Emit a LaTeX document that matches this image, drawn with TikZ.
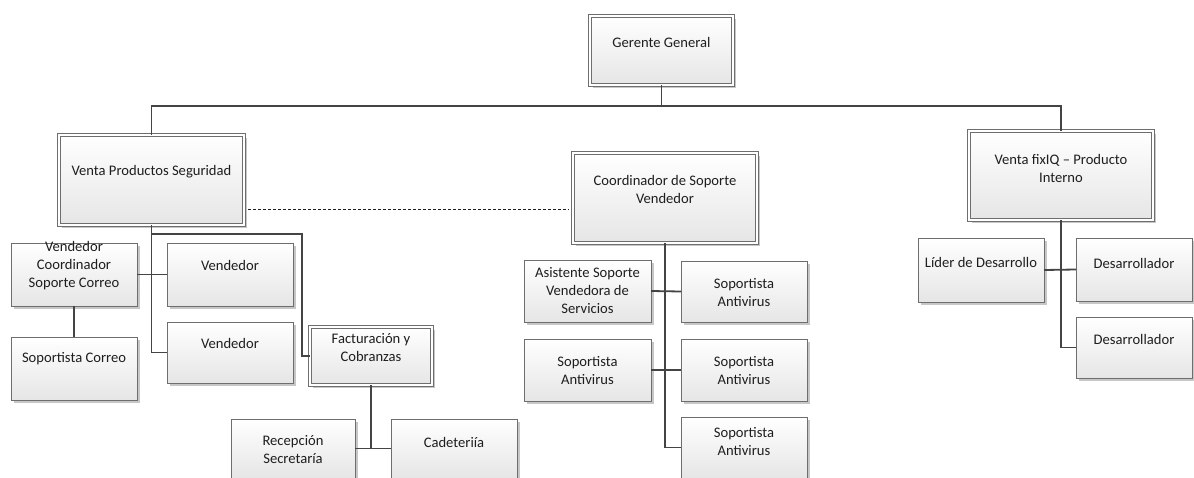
\documentclass[tikz,border=0pt]{standalone}
\usepackage{fontspec}
\setmainfont{Carlito}
\usetikzlibrary{shadows,calc}

\definecolor{edge}{HTML}{6E6E6E}
\definecolor{wire}{HTML}{444444}
\definecolor{ink}{HTML}{1E1E1E}

\tikzset{
  box/.style={draw=edge, line width=0.8pt, inner sep=0pt, outer sep=0pt,
    top color=white, bottom color=black!10,
    drop shadow={shadow xshift=2.5pt, shadow yshift=-2.5pt, fill=black!22, opacity=1}},
  dbox/.style={box, line width=0.7pt, double=white, double distance=1.8pt},
  txt/.style={font=\fontsize{14.6}{18}\selectfont, text=ink, align=center, inner sep=0pt},
  wireline/.style={draw=wire, line width=1.8pt},
  dashline/.style={draw=ink, line width=1pt, dash pattern=on 3pt off 2pt}
}

% \orgnode{style}{name}{x1}{y1}{x2}{y2}: a box spanning the given corners
\newcommand\orgnode[6]{%
  \node[#1, minimum width={(#5-#3)*1pt}, minimum height={(#6-#4)*1pt}]
    (#2) at ({(#3+#5)/2},{(#4+#6)/2}) {};}

\begin{document}
\begin{tikzpicture}[x=1pt, y=-1pt]
\useasboundingbox (0,0) rectangle (1194,477);
\clip (0,0) rectangle (1194,477);

% ---- boxes
\orgnode{dbox}{gg}{590}{16}{733}{85}
\orgnode{dbox}{vps}{59}{135}{244}{225}
\orgnode{dbox}{csv}{573}{153}{757}{243}
\orgnode{dbox}{vfx}{969}{131}{1153}{220}
\orgnode{dbox}{fc}{310}{327}{432}{385}

\orgnode{box}{vcs}{11}{243}{137}{306}
\orgnode{box}{sc}{11}{337}{137}{400}
\orgnode{box}{v1}{167}{243}{293}{306}
\orgnode{box}{v2}{167}{322}{293}{383}
\orgnode{box}{rs}{231}{419}{355}{478}
\orgnode{box}{cad}{391}{419}{517}{478}

\orgnode{box}{asv}{524}{260}{651}{322}
\orgnode{box}{sal}{524}{339}{651}{401}
\orgnode{box}{sa1}{681}{261}{807}{322}
\orgnode{box}{sa2}{681}{339}{807}{401}
\orgnode{box}{sa3}{681}{417}{807}{478}

\orgnode{box}{ld}{918}{238}{1044}{302}
\orgnode{box}{d1}{1076}{238}{1192}{301}
\orgnode{box}{d2}{1076}{317}{1192}{378}

% ---- texts
\node[txt] (gg-t)  at (661.5,42)  {Gerente General};
\node[txt] (vps-t) at (151.5,172) {Venta Productos Seguridad};
\node[txt] (csv-t) at (665,189)   {Coordinador de Soporte\\Vendedor};
\node[txt] (vfx-t) at (1061,168)  {Venta fixIQ – Producto\\Interno};
\node[txt] (fc-t)  at (371,348)   {Facturación y\\Cobranzas};
\node[txt] (vcs-t) at (74,266)    {Vendedor\\Coordinador\\Soporte Correo};
\node[txt] (sc-t)  at (74,359)    {Soportista Correo};
\node[txt] (v1-t)  at (230,265)   {Vendedor};
\node[txt] (v2-t)  at (230,343)   {Vendedor};
\node[txt] (rs-t)  at (293,450)   {Recepción\\Secretaría};
\node[txt] (cad-t) at (454,442)   {Cadeteriía};
\node[txt] (asv-t) at (587.5,291) {Asistente Soporte\\Vendedora de\\Servicios};
\node[txt] (sal-t) at (587.5,370) {Soportista\\Antivirus};
\node[txt] (sa1-t) at (744,292.5) {Soportista\\Antivirus};
\node[txt] (sa2-t) at (744,370)   {Soportista\\Antivirus};
\node[txt] (sa3-t) at (744,441)   {Soportista\\Antivirus};
\node[txt] (ld-t)  at (981,262)   {Líder de Desarrollo};
\node[txt] (d1-t)  at (1134,263)  {Desarrollador};
\node[txt] (d2-t)  at (1134,339)  {Desarrollador};

% ---- connectors
\coordinate (bus) at (0,106);
\coordinate (fcj) at (302,234);
\coordinate (dsh) at (0,209);

\draw[wireline] (gg.south) -- (gg.south |- bus);
\draw[wireline] (vps.north) -- (vps.north |- bus) -- (vfx.north |- bus) -- (vfx.north);

\draw[wireline] (vps.south) |- (v2.west);
\draw[wireline] (vcs.east) -- (v1.west);
\draw[wireline] (vps.south |- fcj) -- (fcj) |- (fc.west);
\draw[wireline] (vcs.south) -- (sc.north);
\draw[wireline] (fc.south) -- (fc.south |- rs.east);
\draw[wireline] (rs.east) -- (cad.west);

\draw[wireline] (csv.south) |- (sa3.west);
\draw[wireline] (asv.east) -- (sa1.west);
\draw[wireline] (sal.east) -- (sa2.west);

\draw[wireline] (vfx.south) |- (d2.west);
\draw[wireline] (ld.east) -- (d1.west);

\draw[dashline] ($(vps.east |- dsh)+(4,0)$) -- ($(csv.west |- dsh)+(-4,0)$);
\end{tikzpicture}
\end{document}
